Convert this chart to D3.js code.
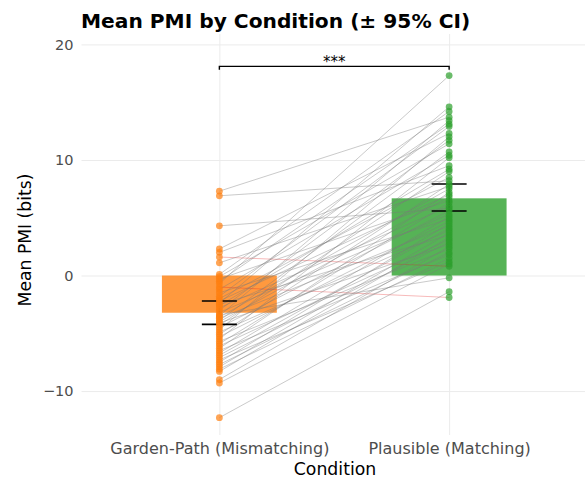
<!DOCTYPE html>
<html>
<head>
<meta charset="utf-8">
<script src="https://cdn.jsdelivr.net/npm/d3@7"></script>
<style>
  body { margin: 0; background: #fff; }
  text { font-family: "DejaVu Sans", sans-serif; }
</style>
</head>
<body>
<div class="chart"></div>
<script>
// conditions and summary values (mean with 95% CI)
var conditions = ["Garden-Path (Mismatching)", "Plausible (Matching)"];
var meanPMI = [-3.22, 6.68];
var ciLow = [-4.23, 5.58];
var ciHigh = [-2.2, 7.92];
var yTicks = [-10, 0, 10, 20];

// per-subject mean PMI, paired by index
var gardenPath = [7.3, 6.9, 4.3, 2.3, 2.0, 1.6, 1.1, 0.1, -0.1, -0.3, -0.5, -0.7, -1.0, -1.2, -1.5,
  -1.8, -2.0, -2.2, -2.4, -2.5, -2.6, -2.8, -3.0, -3.2, -3.4, -3.5, -3.6, -3.7, -3.9, -4.0, -4.1,
  -4.3, -4.5, -4.7, -4.9, -5.1, -5.3, -5.5, -5.7, -5.9, -6.1, -6.3, -6.5, -6.7, -6.9, -7.1, -7.3,
  -7.5, -7.7, -7.9, -8.1, -8.3, -9.0, -9.3, -12.3];
var plausible = [13.7, 8.2, 5.8, 12.3, 9.5, 0.8, 7.7, 14.2, 11.4, 6.5, 13.1, 17.3, -1.9, 10.4, 4.9,
  12.9, 8.5, 7.0, 14.6, 3.5, 9.2, 6.0, 11.7, 5.3, -0.2, 13.4, 7.5, 4.3, 10.7, 6.8, 2.7,
  9.0, 5.6, 12.0, 3.9, 7.9, 4.7, 10.2, 2.3, 6.3, 3.1, 7.2, 1.8, 5.1, 4.1, 2.9, 1.2,
  4.5, 2.0, 3.7, 1.5, 3.3, 2.5, 1.0, -1.4];

var colors = ["#ff7f0e", "#2ca02c"];

var svgWidth = 585;
var svgHeight = 479;
var margin = { top: 34, right: -2, bottom: 44, left: 81.5 };
var chartWidth = svgWidth - margin.left - margin.right;
var chartHeight = svgHeight - margin.top - margin.bottom;

var svg = d3.select(".chart")
  .append("svg")
  .attr("width", svgWidth)
  .attr("height", svgHeight);

var chartGroup = svg.append("g")
  .attr("transform", `translate(${margin.left}, ${margin.top})`);

var xScale = d3.scalePoint()
  .domain(conditions)
  .range([0, chartWidth])
  .padding(0.6);

var yScale = d3.scaleLinear()
  .domain([-13.8, 20.9])
  .range([chartHeight, 0]);

var barWidth = xScale.step() * 0.5;

// gridlines
chartGroup.append("g")
  .call(d3.axisLeft(yScale).tickValues(yTicks).tickSize(-chartWidth).tickFormat(""))
  .call(g => g.select(".domain").remove())
  .selectAll("line").attr("stroke", "#ebebeb").attr("stroke-width", 1);

chartGroup.append("g")
  .attr("transform", `translate(0, ${chartHeight})`)
  .call(d3.axisBottom(xScale).tickSize(-chartHeight).tickFormat(""))
  .call(g => g.select(".domain").remove())
  .selectAll("line").attr("stroke", "#ebebeb").attr("stroke-width", 1);

// bars
chartGroup.selectAll(".bar")
  .data(conditions)
  .enter()
  .append("rect")
  .attr("x", d => xScale(d) - barWidth / 2)
  .attr("width", barWidth)
  .attr("y", (d, i) => yScale(Math.max(0, meanPMI[i])))
  .attr("height", (d, i) => Math.abs(yScale(meanPMI[i]) - yScale(0)))
  .attr("fill", (d, i) => colors[i])
  .attr("fill-opacity", 0.8);

// paired subject lines, red where PMI drops
chartGroup.selectAll(".pair")
  .data(gardenPath.map((v, i) => [v, plausible[i]]))
  .enter()
  .append("line")
  .attr("x1", xScale(conditions[0]))
  .attr("x2", xScale(conditions[1]))
  .attr("y1", d => yScale(d[0]))
  .attr("y2", d => yScale(d[1]))
  .attr("stroke", d => d[1] < d[0] ? "#e41a1c" : "#7a7a7a")
  .attr("stroke-opacity", d => d[1] < d[0] ? 0.3 : 0.4)
  .attr("stroke-width", 1);

// error bars
var errGroup = chartGroup.selectAll(".err")
  .data(conditions)
  .enter()
  .append("g");

errGroup.append("line")
  .attr("x1", d => xScale(d)).attr("x2", d => xScale(d))
  .attr("y1", (d, i) => yScale(ciLow[i]))
  .attr("y2", (d, i) => yScale(ciHigh[i]))
  .attr("stroke", "#000").attr("stroke-width", 1.5);

[ciLow, ciHigh].forEach(function(ci) {
  errGroup.append("line")
    .attr("x1", d => xScale(d) - 17.5).attr("x2", d => xScale(d) + 17.5)
    .attr("y1", (d, i) => yScale(ci[i]))
    .attr("y2", (d, i) => yScale(ci[i]))
    .attr("stroke", "#000").attr("stroke-width", 1.6);
});

// subject points
[gardenPath, plausible].forEach(function(values, i) {
  chartGroup.append("g")
    .selectAll("circle")
    .data(values)
    .enter()
    .append("circle")
    .attr("cx", xScale(conditions[i]))
    .attr("cy", d => yScale(d))
    .attr("r", 3.4)
    .attr("fill", colors[i])
    .attr("fill-opacity", 0.7);
});

// significance bracket
var bracketY = yScale(18.1);
var x0 = xScale(conditions[0]);
var x1 = xScale(conditions[1]);
chartGroup.append("path")
  .attr("d", `M${x0},${bracketY + 3.5}V${bracketY}H${x1}V${bracketY + 3.5}`)
  .attr("fill", "none")
  .attr("stroke", "#000")
  .attr("stroke-width", 1.4);

chartGroup.append("text")
  .attr("x", (x0 + x1) / 2)
  .attr("y", bracketY + 0.5)
  .attr("text-anchor", "middle")
  .attr("font-size", 15)
  .text("***");

// y axis labels
chartGroup.append("g")
  .call(d3.axisLeft(yScale).tickValues(yTicks).tickSize(0).tickPadding(8))
  .call(g => g.select(".domain").remove())
  .selectAll("text")
  .attr("font-size", 14.5)
  .attr("fill", "#4d4d4d")
  .style("font-family", "DejaVu Sans");

// x axis labels
chartGroup.append("g")
  .attr("transform", `translate(0, ${chartHeight})`)
  .call(d3.axisBottom(xScale).tickSize(0).tickPadding(8))
  .call(g => g.select(".domain").remove())
  .selectAll("text")
  .attr("font-size", 16)
  .attr("fill", "#4d4d4d")
  .style("font-family", "DejaVu Sans");

// titles
svg.append("text")
  .attr("x", 81)
  .attr("y", 28)
  .attr("font-size", 20.2)
  .attr("font-weight", "bold")
  .text("Mean PMI by Condition (± 95% CI)");

svg.append("text")
  .attr("x", 335)
  .attr("y", 474.5)
  .attr("text-anchor", "middle")
  .attr("font-size", 17.3)
  .text("Condition");

svg.append("text")
  .attr("transform", "translate(31, 240) rotate(-90)")
  .attr("text-anchor", "middle")
  .attr("font-size", 17.2)
  .text("Mean PMI (bits)");
</script>
</body>
</html>
